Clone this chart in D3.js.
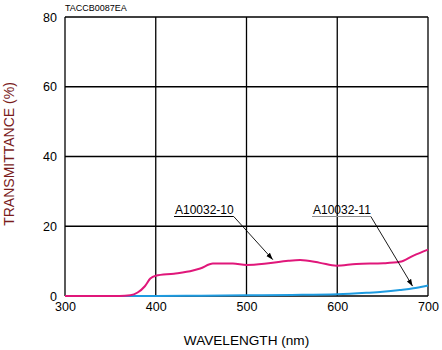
<!DOCTYPE html>
<html>
<head>
<meta charset="utf-8">
<script src="https://cdn.jsdelivr.net/npm/d3@7"></script>
<style>
  html, body { margin: 0; padding: 0; background: #fff; }
  svg { display: block; font-family: "Liberation Sans", Arial, sans-serif; }
</style>
</head>
<body>
<svg id="chart" width="442" height="350"></svg>
<script>
// Spectral transmittance of two filters
const wavelengths10 = [300, 360, 372, 380, 388, 394, 400, 420, 441, 449, 463, 485, 500, 522, 546, 559, 581, 599, 621, 651, 669, 684, 700];
const values10      = [0,   0,   0.2, 1.0, 2.8, 5.0, 5.8, 6.4, 7.3, 7.9, 9.3, 9.3, 8.9, 9.3, 10.1, 10.3, 9.5, 8.7, 9.2, 9.4, 9.8, 11.6, 13.3];
const wavelengths11 = [300, 400, 450, 500, 550, 600, 632, 650, 669, 684, 692, 700];
const values11      = [0,   0,   0.1, 0.2, 0.3, 0.5, 0.9, 1.2, 1.7, 2.2, 2.6, 3.0];

const xTicks = [300, 400, 500, 600, 700];
const yTicks = [0, 20, 40, 60, 80];
const seriesNames = ["A10032-10", "A10032-11"];
const codeLabel = "TACCB0087EA";

const svg = d3.select("#chart");
const plotLeft = 65, plotRight = 428, plotTop = 17, plotBottom = 296;

const x = d3.scaleLinear().domain([300, 700]).range([plotLeft, plotRight]);
const y = d3.scaleLinear().domain([0, 80]).range([plotBottom, plotTop]);

// grid lines
const grid = svg.append("g").attr("stroke", "#000").attr("stroke-width", 1.3);
xTicks.forEach(t => grid.append("line")
  .attr("x1", x(t)).attr("x2", x(t)).attr("y1", plotTop).attr("y2", plotBottom));
yTicks.forEach(t => grid.append("line")
  .attr("x1", plotLeft).attr("x2", plotRight).attr("y1", y(t)).attr("y2", y(t)));

// tick labels
const xAxis = d3.axisBottom(x).tickValues(xTicks).tickSize(0).tickPadding(6);
const gx = svg.append("g").attr("transform", `translate(0,${plotBottom})`).call(xAxis);
gx.select(".domain").remove();
gx.selectAll("text").attr("font-size", 12.5).attr("font-family", "Liberation Sans, Arial, sans-serif").attr("fill", "#000");

const yAxis = d3.axisLeft(y).tickValues(yTicks).tickSize(0).tickPadding(8);
const gy = svg.append("g").attr("transform", `translate(${plotLeft},0)`).call(yAxis);
gy.select(".domain").remove();
gy.selectAll("text").attr("font-size", 12.5).attr("font-family", "Liberation Sans, Arial, sans-serif").attr("fill", "#000");

// curves
const line = d3.line().x(d => x(d[0])).y(d => y(d[1])).curve(d3.curveMonotoneX);
svg.append("path")
  .datum(d3.zip(wavelengths11, values11))
  .attr("d", line).attr("fill", "none")
  .attr("stroke", "#1e9be0").attr("stroke-width", 2);
svg.append("path")
  .datum(d3.zip(wavelengths10, values10))
  .attr("d", line).attr("fill", "none")
  .attr("stroke", "#e0177a").attr("stroke-width", 2);

// arrow marker
svg.append("defs").append("marker")
  .attr("id", "arrow").attr("viewBox", "0 0 10 10")
  .attr("refX", 10).attr("refY", 5)
  .attr("markerWidth", 7).attr("markerHeight", 7)
  .attr("markerUnits", "userSpaceOnUse")
  .attr("orient", "auto")
  .append("path").attr("d", "M0,1.5 L10,5 L0,8.5 Z").attr("fill", "#000");

// callouts
function callout(name, tx, ulColor, wl, val) {
  const t = svg.append("text")
    .attr("x", tx).attr("y", 214)
    .attr("font-size", 12).attr("fill", "#000")
    .text(name);
  const w = t.node().getComputedTextLength();
  svg.append("line")
    .attr("x1", tx - 1).attr("x2", tx + w).attr("y1", 216.5).attr("y2", 216.5)
    .attr("stroke", ulColor).attr("stroke-width", 1.2);
  svg.append("line")
    .attr("x1", tx + w).attr("y1", 216.5)
    .attr("x2", x(wl)).attr("y2", y(val) - 1.5)
    .attr("stroke", "#000").attr("stroke-width", 0.9)
    .attr("marker-end", "url(#arrow)");
}
callout(seriesNames[0], 175, "#000", 529, 10.0);
callout(seriesNames[1], 313, "#8c8c8c", 683, 2.4);

// axis titles
svg.append("text")
  .attr("x", (plotLeft + plotRight) / 2).attr("y", 345)
  .attr("text-anchor", "middle").attr("font-size", 13.6).attr("fill", "#000")
  .text("WAVELENGTH (nm)");
svg.append("text")
  .attr("transform", "translate(13.5,154) rotate(-90)")
  .attr("text-anchor", "middle").attr("font-size", 14).attr("fill", "#7a1c1c")
  .text("TRANSMITTANCE (%)");

svg.append("text")
  .attr("x", 65).attr("y", 11)
  .attr("font-size", 9).attr("fill", "#000")
  .text(codeLabel);
</script>
</body>
</html>
